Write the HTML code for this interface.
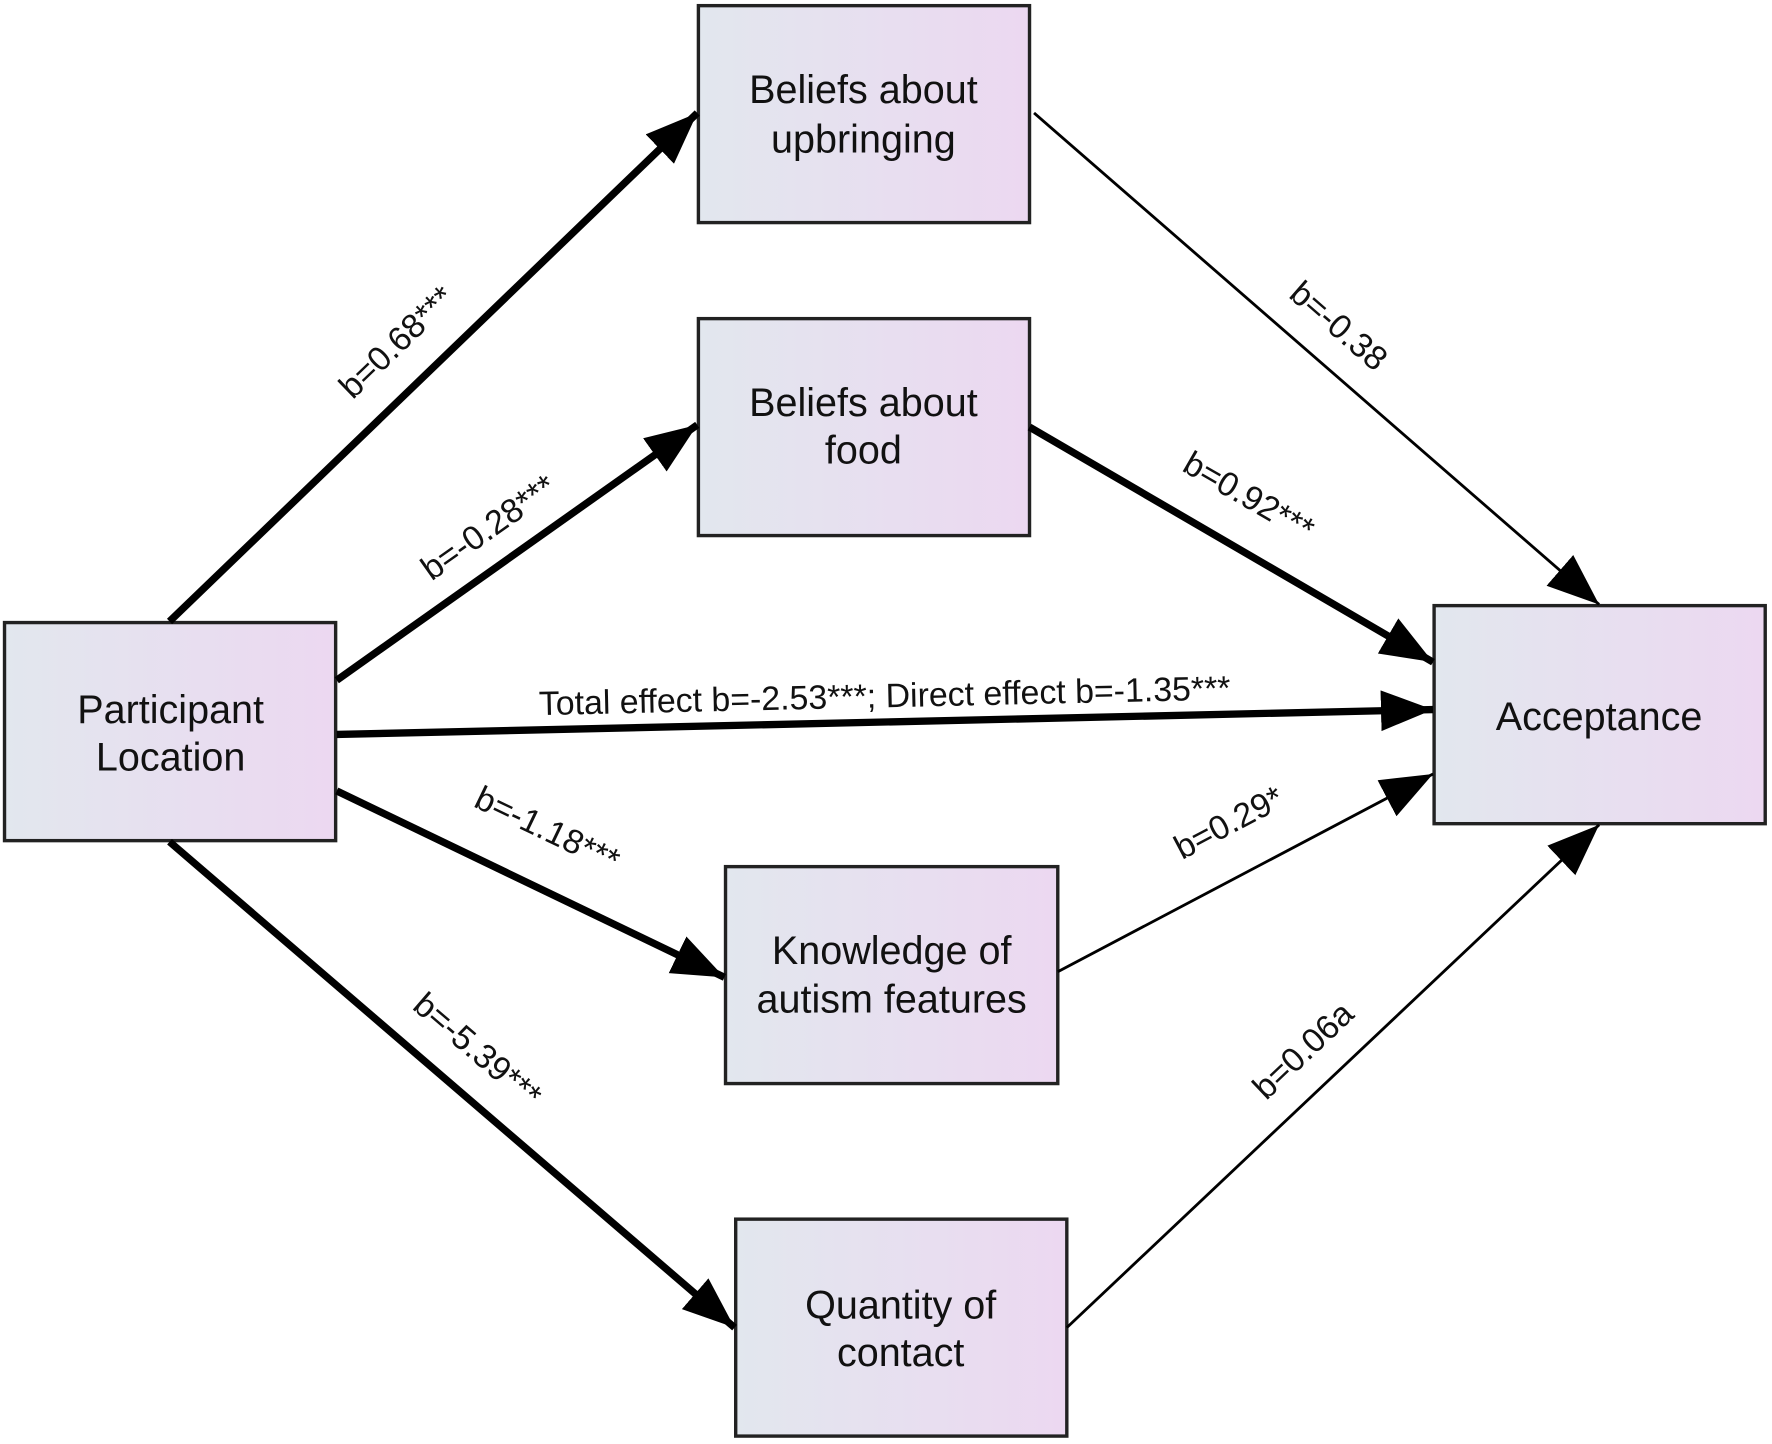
<!DOCTYPE html>
<html><head><meta charset="utf-8"><style>html,body{margin:0;padding:0;background:#fff}svg{display:block}</style></head>
<body>
<svg width="1772" height="1444" viewBox="0 0 1568 1278" preserveAspectRatio="none" xmlns="http://www.w3.org/2000/svg" font-family="Liberation Sans, Arial, sans-serif">
<defs>
<linearGradient id="g" x1="0" y1="0" x2="1" y2="0"><stop offset="0" stop-color="#e2e7ee"/><stop offset="1" stop-color="#ecd8f1"/></linearGradient>
<marker id="a" markerUnits="userSpaceOnUse" markerWidth="48" markerHeight="40" refX="46" refY="18" orient="auto"><path d="M0,0 L46,18 L0,36 Z" fill="#000"/></marker>
</defs>
<g fill="url(#g)" stroke="#222" stroke-width="3">
<rect x="618" y="5" width="293" height="192"/>
<rect x="618" y="282" width="293" height="192"/>
<rect x="4" y="551" width="293" height="193"/>
<rect x="1269" y="536" width="293" height="193"/>
<rect x="642" y="767" width="294" height="192"/>
<rect x="651" y="1079" width="293" height="192"/>
</g>
<g stroke="#000" fill="none" marker-end="url(#a)">
<line x1="150" y1="550" x2="617" y2="100" stroke-width="6.5"/>
<line x1="298" y1="602" x2="617" y2="376" stroke-width="6.5"/>
<line x1="298" y1="650" x2="1268" y2="628" stroke-width="6.5"/>
<line x1="298" y1="700" x2="641" y2="865" stroke-width="6.5"/>
<line x1="150" y1="745" x2="650" y2="1175" stroke-width="6.5"/>
<line x1="915" y1="100" x2="1415" y2="535" stroke-width="2.5"/>
<line x1="911" y1="378" x2="1268" y2="586" stroke-width="6.5"/>
<line x1="936" y1="860" x2="1268" y2="685" stroke-width="2.5"/>
<line x1="944" y1="1175" x2="1415" y2="730" stroke-width="2.5"/>
</g>
<g font-size="35" fill="#111" text-anchor="middle">
<text x="764" y="91">Beliefs about</text><text x="764" y="135">upbringing</text>
<text x="764" y="368">Beliefs about</text><text x="764" y="410">food</text>
<text x="151" y="640">Participant</text><text x="151" y="682">Location</text>
<text x="1415" y="646">Acceptance</text>
<text x="789" y="853">Knowledge of</text><text x="789" y="896">autism features</text>
<text x="797" y="1167">Quantity of</text><text x="797" y="1209">contact</text>
</g>
<g font-size="30" fill="#111" text-anchor="middle">
<text transform="translate(358,310) rotate(-43.9)">b=0.68***</text>
<text transform="translate(438,475) rotate(-35.2)">b=-0.28***</text>
<text transform="translate(1178,296) rotate(41)">b=-0.38</text>
<text transform="translate(1100,448) rotate(30)">b=0.92***</text>
<text transform="translate(783,626) rotate(-1.3)">Total effect b=-2.53***; Direct effect b=-1.35***</text>
<text transform="translate(480,743) rotate(25.6)">b=-1.18***</text>
<text transform="translate(1092,737) rotate(-27.7)">b=0.29*</text>
<text transform="translate(416,937) rotate(40.6)">b=-5.39***</text>
<text transform="translate(1160,937) rotate(-43.4)">b=0.06a</text>
</g>
</svg>
</body></html>
